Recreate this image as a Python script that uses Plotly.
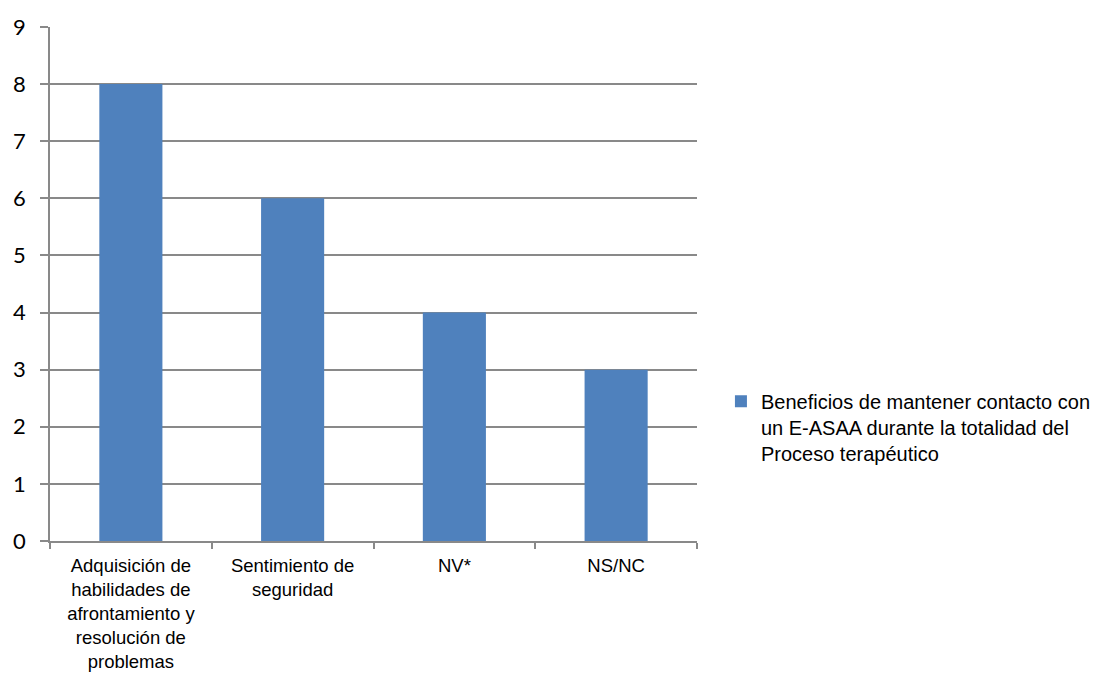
import plotly.graph_objects as go

categories = [
    "Adquisición de<br>habilidades de<br>afrontamiento y<br>resolución de<br>problemas",
    "Sentimiento de<br>seguridad",
    "NV*",
    "NS/NC",
]
values = [8, 6, 4, 3]
series_name = "Beneficios de mantener contacto con<br>un E-ASAA durante la totalidad del<br>Proceso terapéutico"
y_ticks = list(range(0, 10))

fig = go.Figure()
fig.add_trace(go.Bar(
    x=categories, y=values, name=series_name,
    marker=dict(color="#4f81bd", line=dict(width=0)),
    showlegend=True,
))

fig.update_layout(
    width=1110, height=675,
    paper_bgcolor="white", plot_bgcolor="white",
    margin=dict(l=50, r=413, t=27, b=134, autoexpand=False),
    bargap=0.61,
    font=dict(family="Liberation Sans, Arial, sans-serif", size=19, color="#000000"),
    showlegend=True,
    legend=dict(
        x=1.037, xanchor="left", y=0.31, yanchor="top",
        valign="top",
        font=dict(size=20, color="#000000"),
        bgcolor="rgba(0,0,0,0)", itemwidth=30,
        tracegroupgap=0,
    ),
)
fig.update_xaxes(
    type="category",
    showline=True, linecolor="#898989", linewidth=1.5,
    ticks="outside", tickson="boundaries", ticklen=6, tickcolor="#898989", tickwidth=1.5,
    showgrid=False, tickfont=dict(size=18.5),
    ticklabelstandoff=7,
)
fig.update_yaxes(
    range=[0, 9], tickvals=y_ticks,
    showline=True, linecolor="#898989", linewidth=1.5,
    ticks="outside", ticklen=8, tickcolor="#898989", tickwidth=1.5,
    showgrid=True, gridcolor="#898989", gridwidth=1.5,
    zeroline=False,
    tickfont=dict(family="Lato, Open Sans, sans-serif", size=22),
    ticklabelstandoff=10,
)

fig.write_html("out.html")
